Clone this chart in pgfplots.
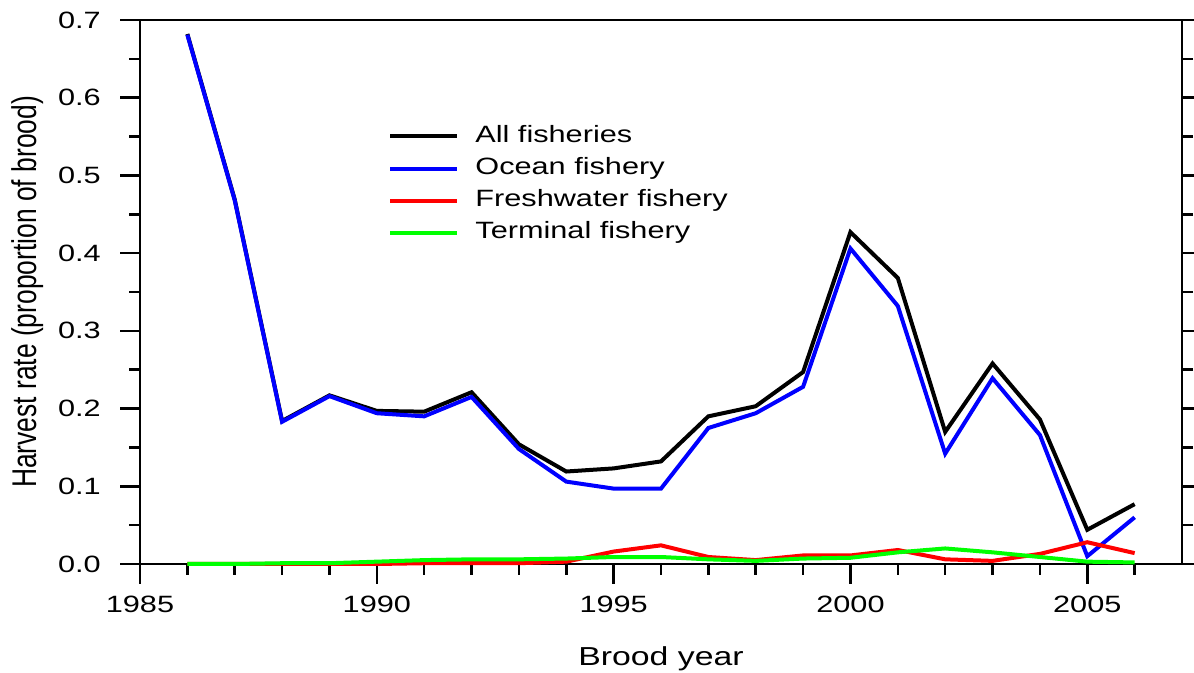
\documentclass[border=0pt]{standalone}
\usepackage{fontspec}
\setmainfont{Liberation Sans}[FakeStretch=1.3]
\newfontfamily\ylabfont{Liberation Sans}
\usepackage{graphicx}
\usepackage{pgfplots}
\pgfplotsset{compat=1.18}

% brood year, all fisheries, ocean, freshwater, terminal
\pgfplotstableread{
year  all    ocean  fresh  term
1986  0.682  0.681  0.000  0.000
1987  0.469  0.468  0.000  0.000
1988  0.184  0.183  0.000  0.001
1989  0.217  0.216  0.000  0.001
1990  0.197  0.194  0.000  0.003
1991  0.196  0.190  0.001  0.005
1992  0.221  0.215  0.001  0.006
1993  0.154  0.148  0.001  0.006
1994  0.119  0.106  0.003  0.007
1995  0.123  0.097  0.016  0.009
1996  0.132  0.097  0.024  0.009
1997  0.190  0.175  0.009  0.006
1998  0.203  0.194  0.005  0.004
1999  0.247  0.228  0.011  0.007
2000  0.427  0.406  0.011  0.008
2001  0.368  0.332  0.018  0.015
2002  0.170  0.142  0.006  0.020
2003  0.258  0.239  0.004  0.015
2004  0.186  0.166  0.013  0.009
2005  0.044  0.010  0.028  0.003
2006  0.077  0.060  0.014  0.002
}\harvest

\begin{document}
\fontsize{11.8}{14}\selectfont
\begin{tikzpicture}
\begin{axis}[
    at={(0,0)}, anchor=south west,
    width=521pt, height=272pt,
    scale only axis,
    xmin=1985, xmax=2007,
    ymin=0, ymax=0.7,
    xtick={1985,1990,1995,2000,2005},
    minor xtick={1986,1987,1988,1989,1991,1992,1993,1994,1996,1997,1998,1999,2001,2002,2003,2004,2006},
    ytick={0,0.1,0.2,0.3,0.4,0.5,0.6,0.7},
    minor ytick={0.05,0.15,0.25,0.35,0.45,0.55,0.65},
    xtick pos=left,
    ytick pos=both,
    tick align=outside,
    major tick length=10pt,
    minor tick length=5.5pt,
    every tick/.style={black, line width=1.3pt},
    axis line style={line width=1.3pt},
    xticklabel style={/pgf/number format/1000 sep={}, yshift=-2pt},
    yticklabel style={/pgf/number format/fixed, /pgf/number format/fixed zerofill,
        /pgf/number format/precision=1, xshift=-5.5pt},
    /pgf/number format/assume math mode=true,
    yticklabel pos=left,
    xlabel={Brood year},
    ylabel={\scalebox{1}[1.3]{\ylabfont Harvest rate (proportion of brood)}},
    xlabel style={at={(axis description cs:0.5,-0.175)}, anchor=center,
        font=\fontsize{13}{15}\selectfont},
    ylabel style={at={(axis description cs:-0.108,0.5)}, anchor=center,
        font=\fontsize{13.2}{16}\selectfont},
    legend style={at={(axis description cs:0.238,0.8165)}, anchor=north west,
        draw=none, fill=none, inner sep=0pt,
        nodes={inner xsep=2pt, inner ysep=2.55pt, text height=8.5pt, text depth=2.5pt}},
    legend cell align=left,
    legend image code/.code={\draw[#1, line width=2pt] (0pt,0pt) -- (33.5pt,0pt);},
    /tikz/every odd column/.append style={column sep=6pt},
    clip=false,
]
\addplot[black, line width=2pt] table[x=year, y=all] {\harvest};
\addlegendentry{All fisheries}
\addplot[blue, line width=2pt] table[x=year, y=ocean] {\harvest};
\addlegendentry{Ocean fishery}
\addplot[red, line width=2pt] table[x=year, y=fresh] {\harvest};
\addlegendentry{Freshwater fishery}
\addplot[green, line width=2pt] table[x=year, y=term] {\harvest};
\addlegendentry{Terminal fishery}
\end{axis}
\pgfresetboundingbox
\path[use as bounding box] (-70pt,-54.5pt) rectangle (527pt,282pt);
\end{tikzpicture}
\end{document}
